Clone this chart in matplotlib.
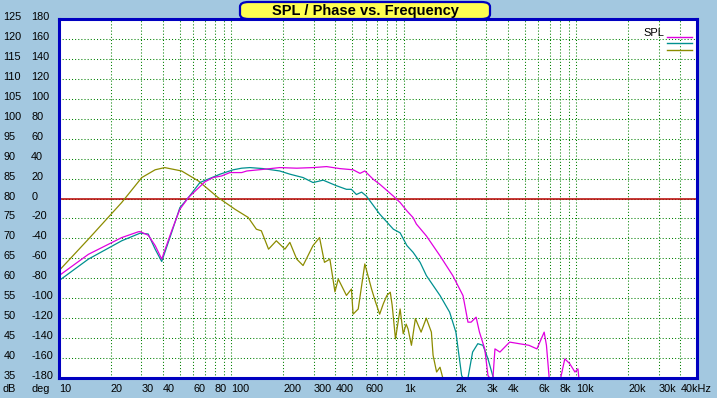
import numpy as np
import matplotlib.pyplot as plt
from matplotlib.patches import FancyBboxPatch
from matplotlib.lines import Line2D
from matplotlib.transforms import ScaledTranslation

plt.rcParams.update({
    "font.family": ["Liberation Sans", "DejaVu Sans"],
    "font.size": 7.8
})

# curves (frequency in Hz, level in dB)
olive_f = [10, 14.8, 23.1, 30.2, 36.1, 41, 51.4, 64.3, 83.6, 104.8, 125, 139.4, 149, 164,
           182, 204, 218, 239, 260, 297, 324, 346, 372, 398, 416, 464, 496, 507, 543, 593,
           649, 680, 723, 759, 796, 833, 854, 893, 950, 990, 1030, 1056, 1105, 1165, 1257,
           1347, 1442, 1475, 1546, 1618, 1680, 1750, 50000]
olive_db = [61.9, 69.8, 79, 85.25, 87.2, 87.75, 86.9, 84.4, 80.25, 77.3, 75.25, 72.3, 71.9, 67.3,
            69.4, 67.3, 69, 64.8, 63.2, 68.2, 70.2, 64, 64.8, 56.6, 59.8, 55.7, 57.3, 51, 52.3, 63.6,
            57.3, 54.4, 51, 53.6, 55.7, 56.5, 53.3, 44.8, 52.3, 46.1, 48.5, 47.3, 43.2, 49.9, 46.5,
            50, 46.5, 40.7, 36.5, 37.7, 35, 30, 30]

mag_f = [10, 14.8, 23.1, 28.8, 29.5, 32.9, 36.1, 39.4, 45, 50.2, 56.3, 70.2, 78.3, 87.6, 98,
         114.6, 122.7, 136.6, 152.4, 190.5, 239, 297, 356, 424, 507, 556, 593, 664, 723, 868,
         950, 1040, 1130, 1180, 1350, 1620, 1920, 2200, 2350, 2450, 2620, 2740, 2940, 3070,
         3150, 3280, 3370, 3600, 4100, 4660, 5300, 5900, 6500, 6700, 6950, 7100, 8100, 8560,
         9140, 9800, 10200, 10330, 50000]
mag_db = [60.65, 66, 70.2, 71.65, 71.7, 70.8, 68.2, 64.8, 71.9, 77.3, 80.25, 84.2, 85.25, 85.65, 86.5,
          86.5, 86.9, 87.1, 87.3, 87.75, 87.6, 87.75, 88, 87.5, 87.2, 86.3, 86.9, 84.8, 83.6, 80.6,
          79, 76.9, 75.2, 73.6, 70.6, 65.6, 60.65, 55.65, 49, 49, 50.25, 46.5, 42.3, 35.6,
          30, 30, 42.3, 41.5, 44, 43.6, 43.2, 42.3, 46.5, 43.2, 35, 30, 30, 39.8,
          38.6, 36.5, 37.3, 30, 30]

teal_f = [10, 14.8, 23.1, 29.5, 32.9, 36.1, 39.4, 45, 50.2, 56.3, 65.6, 85.9, 102.4, 114.6,
          127.8, 152.4, 190.5, 218, 260, 297, 340, 406, 464, 496, 530, 568, 606, 723, 868,
          950, 1040, 1130, 1240, 1350, 1620, 1840, 2000, 2160, 2200, 2300, 2350, 2500, 2680,
          2870, 3070, 3300, 3400, 50000]
teal_db = [59.4, 64.8, 69.4, 71.3, 71.1, 67.3, 64.2, 71.5, 77.7, 80.25, 84, 86.1, 87.2, 87.6,
           87.75, 87.5, 86.9, 86.1, 85.25, 84, 84.6, 83.2, 82.3, 82.3, 81, 81.6, 80.6, 76.1, 72.3,
           71.4, 68.2, 66.5, 64, 60.65, 55.65, 51.5, 46.5, 35.6, 30, 30, 35, 41.5, 43.6,
           43.2, 39.8, 35, 30, 30]

db_ticks = list(range(35, 130, 5))
deg_ticks = list(range(-180, 181, 20))
f_ticks = [10, 20, 30, 40, 60, 80, 100, 200, 300, 400, 600, 1000, 2000, 3000, 4000,
           6000, 8000, 10000, 20000, 30000, 40000]
f_labels = ['10', '20', '30', '40', '60', '80', '100', '200', '300', '400', '600', '1k',
            '2k', '3k', '4k', '6k', '8k', '10k', '20k', '30k', '40kHz']

bg = '#A3C8E0'
blue = '#0000C0'
W, H = 717, 398

fig = plt.figure(figsize=(W / 100, H / 100), dpi=100, facecolor=bg)
ax = fig.add_axes([59 / W, 20 / H, 638 / W, 359 / H])
ax.set_facecolor('white')

ax.plot(olive_f, np.maximum(olive_db, 35), color='#8C8C00', lw=0.9, zorder=3)
ax.plot(teal_f, np.maximum(teal_db, 35), color='#009090', lw=0.9, zorder=4)
ax.plot(mag_f, np.maximum(mag_db, 35), color='#E000E0', lw=0.9, zorder=5)

ax.set_xscale('log')
ax.set_xlim(10, 50000)
ax.set_ylim(35, 125)

minor = [m * d for d in [10, 100, 1000, 10000] for m in range(1, 10) if m * d <= 50000]
ax.set_xticks(minor, minor=True)
ax.set_xticks(f_ticks, f_labels)
ax.xaxis.set_minor_formatter(plt.NullFormatter())
ax.set_yticks(db_ticks, [str(v) for v in db_ticks])

ax.grid(which='both', axis='x', color='#008000', lw=0.75, linestyle=(0, (1, 2)))
ax.grid(which='major', axis='y', color='#008000', lw=0.75, linestyle=(0, (1, 2)))
ax.axhline(80, color='#B80000', lw=1.1, zorder=2)

ax.tick_params(which='both', length=0)
ax.tick_params(axis='y', pad=40)
ax.tick_params(axis='x', pad=4.5)
plt.setp(ax.get_yticklabels(), ha='left')
plt.setp(ax.get_xticklabels(), ha='left')

sec = ax.secondary_yaxis('left', functions=(lambda d: (d - 80) * 4, lambda p: p / 4 + 80))
sec.set_yticks(deg_ticks, [str(v) for v in deg_ticks])
sec.tick_params(length=0, pad=20)
plt.setp(sec.get_yticklabels(), ha='left')
sec.spines['left'].set_visible(False)

# labels sit a few pixels above their gridlines in the original
up = ScaledTranslation(0, 3 / 100, fig.dpi_scale_trans)
for t in ax.yaxis.get_major_ticks() + sec.yaxis.get_major_ticks():
    t.label1.set_transform(t.label1.get_transform() + up)

for s in ax.spines.values():
    s.set_color(blue)
    s.set_linewidth(2.2)
    s.set_zorder(6)

fig.text(3 / W, 1 - 389 / H, 'dB', ha='left', va='center')
fig.text(31 / W, 1 - 389 / H, 'deg', ha='left', va='center')

# legend
handles = [Line2D([], [], color=c, lw=1.0) for c in ['#E000E0', '#009090', '#8C8C00']]
ax.legend(handles, ['', '', ''], loc='upper right', bbox_to_anchor=(633 / 638, 1 - 16 / 359),
          frameon=False, fontsize=4.3, labelspacing=0.2, handlelength=4.2,
          handletextpad=0, borderpad=0, borderaxespad=0)
fig.text(643 / W, 1 - 33 / H, 'SPL', ha='left', va='center', fontsize=8)

# title box
box = FancyBboxPatch((240 / W, 1 - 19 / H), 250 / W, 17 / H,
                     boxstyle='round,pad=0,rounding_size=0.012',
                     transform=fig.transFigure, fc='#FFFF50', ec=blue, lw=1.6,
                     zorder=10, clip_on=False)
fig.add_artist(box)
fig.text(365 / W, 1 - 10.5 / H, 'SPL / Phase vs. Frequency', ha='center', va='center',
         fontsize=10.5, fontweight='bold', zorder=11)

fig.savefig('out.png', dpi=100, facecolor=bg)
